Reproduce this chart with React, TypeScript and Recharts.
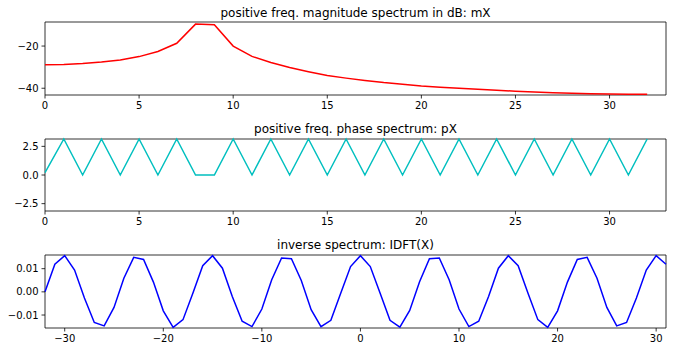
import { LineChart, Line, XAxis, YAxis, ReferenceArea } from "recharts";

// positive freq. magnitude spectrum (dB), bins 0..32
const mX = [
  -28.9, -28.8, -28.3, -27.6, -26.6, -25.0, -22.6, -18.7, -9.6, -9.9, -20.0,
  -24.9, -27.8, -30.2, -32.2, -34.0, -35.2, -36.3, -37.3, -38.1, -38.9, -39.5,
  -40.0, -40.5, -41.0, -41.4, -41.8, -42.1, -42.4, -42.6, -42.7, -42.8, -42.9,
];

// phase spectrum, bins 0..32
const PI = Math.PI;
const pX = [
  0.2, PI, 0, PI, 0, PI, 0, PI, 0, 0, PI, 0, PI, 0, PI, 0, PI, 0, PI, 0, PI, 0,
  PI, 0, PI, 0, PI, 0, PI, 0, PI, 0, PI,
];

// inverse spectrum, samples -32..31
const idft = [
  0.0, 0.0119, 0.0156, 0.0094, -0.0027, -0.0132, -0.0147, -0.0067, 0.0059,
  0.0149, 0.014, 0.0042, -0.0082, -0.0153, -0.012, -0.0006, 0.0113, 0.0156,
  0.0102, -0.002, -0.0127, -0.015, -0.0074, 0.0052, 0.0146, 0.0143, 0.0049,
  -0.0077, -0.015, -0.0123, -0.0006, 0.0109, 0.0156, 0.0109, -0.0006, -0.0123,
  -0.0152, -0.008, 0.0044, 0.0143, 0.0146, 0.0052, -0.0074, -0.015, -0.0127,
  -0.002, 0.0102, 0.0156, 0.0113, -0.0006, -0.012, -0.0153, -0.0082, 0.0042,
  0.014, 0.0149, 0.0059, -0.0067, -0.0147, -0.0132, -0.0027, 0.0094, 0.0156,
  0.0119,
];

const binTicks = [0, 5, 10, 15, 20, 25, 30];
const mXTicks = [-40, -20];
const pXTicks = [-2.5, 0, 2.5];
const timeTicks = [-30, -20, -10, 0, 10, 20, 30];
const idftTicks = [-0.01, 0, 0.01];

const titles = [
  "positive freq. magnitude spectrum in dB: mX",
  "positive freq. phase spectrum: pX",
  "inverse spectrum: IDFT(X)",
];

const font = "'DejaVu Sans', sans-serif";
const minus = (s: string) => s.replace("-", "\u2212");
const tickStyle = { fill: "#000", fontSize: 10, fontFamily: font };

function Panel({
  data,
  top,
  height,
  xDomain,
  yDomain,
  xTicks,
  yTicks,
  yFmt,
  color,
}: {
  data: { k: number; v: number }[];
  top: number;
  height: number;
  xDomain: [number, number];
  yDomain: [number, number];
  xTicks: number[];
  yTicks: number[];
  yFmt: (v: number) => string;
  color: string;
}) {
  return (
    <div style={{ position: "absolute", left: 0, top }}>
      <LineChart
        width={676}
        height={height}
        data={data}
        margin={{ top: 4, right: 10, bottom: 0, left: 0 }}
      >
        <XAxis
          dataKey="k"
          type="number"
          domain={xDomain}
          ticks={xTicks}
          height={22}
          axisLine={false}
          tickSize={3.5}
          tickMargin={3}
          tickLine={{ stroke: "#000", strokeWidth: 0.8 }}
          tick={tickStyle}
          tickFormatter={(v: number) => minus(String(v))}
          interval={0}
        />
        <YAxis
          type="number"
          domain={yDomain}
          ticks={yTicks}
          width={45}
          axisLine={false}
          tickSize={3.5}
          tickMargin={3}
          tickLine={{ stroke: "#000", strokeWidth: 0.8 }}
          tick={tickStyle}
          tickFormatter={yFmt}
          interval={0}
        />
        <Line
          dataKey="v"
          type="linear"
          stroke={color}
          strokeWidth={1.5}
          dot={false}
          isAnimationActive={false}
        />
        <ReferenceArea
          x1={xDomain[0]}
          x2={xDomain[1]}
          y1={yDomain[0]}
          y2={yDomain[1]}
          fill="none"
          stroke="#000"
          strokeWidth={0.8}
          ifOverflow="visible"
        />
      </LineChart>
    </div>
  );
}

export default function App() {
  const magData = mX.map((v, i) => ({ k: i, v }));
  const phaseData = pX.map((v, i) => ({ k: i, v }));
  const timeData = idft.map((v, i) => ({ k: i - 32, v }));

  return (
    <div
      style={{
        position: "absolute",
        left: 0,
        top: 0,
        width: 676,
        height: 352,
        background: "#fff",
        fontFamily: font,
      }}
    >
      <Panel
        data={magData}
        top={18}
        height={99}
        xDomain={[0, 33]}
        yDomain={[-43.2, -8.6]}
        xTicks={binTicks}
        yTicks={mXTicks}
        yFmt={(v) => minus(String(v))}
        color="#ff0000"
      />
      <Panel
        data={phaseData}
        top={135}
        height={98}
        xDomain={[0, 33]}
        yDomain={[-PI, PI]}
        xTicks={binTicks}
        yTicks={pXTicks}
        yFmt={(v) => minus(v.toFixed(1))}
        color="#00bfbf"
      />
      <Panel
        data={timeData}
        top={251}
        height={99}
        xDomain={[-32, 31]}
        yDomain={[-0.0156, 0.0159]}
        xTicks={timeTicks}
        yTicks={idftTicks}
        yFmt={(v) => minus(v.toFixed(2))}
        color="#0000ff"
      />
      <svg
        width={676}
        height={352}
        style={{ position: "absolute", left: 0, top: 0, pointerEvents: "none" }}
      >
        {titles.map((t, i) => (
          <text
            key={t}
            x={355.5}
            y={[17, 133, 249][i]}
            textAnchor="middle"
            fontSize={12}
            fontFamily={font}
            fill="#000"
          >
            {t}
          </text>
        ))}
      </svg>
    </div>
  );
}
